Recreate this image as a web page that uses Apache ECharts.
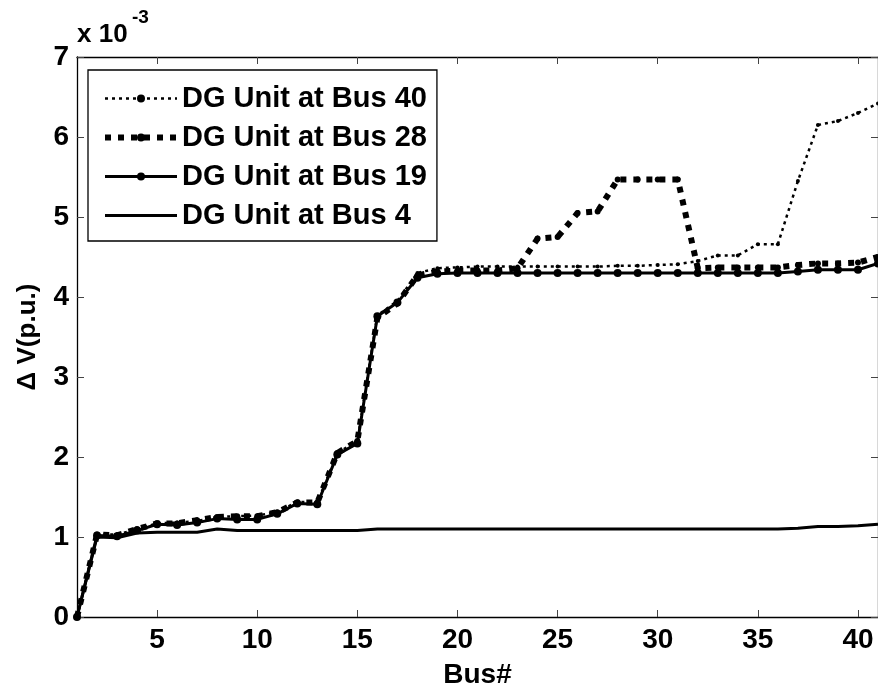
<!DOCTYPE html>
<html>
<head>
<meta charset="utf-8">
<script src="https://cdn.jsdelivr.net/npm/echarts@6/dist/echarts.min.js"></script>
<style>
  html, body { margin: 0; padding: 0; background: #fff; }
  #chart { width: 878px; height: 694px; }
</style>
</head>
<body>
<div id="chart"></div>
<script>
// Bus numbers along the feeder
const buses = [1,2,3,4,5,6,7,8,9,10,11,12,13,14,15,16,17,18,19,20,21,22,23,24,25,26,27,28,29,30,31,32,33,34,35,36,37,38,39,40,41];

// Voltage deviation (x 10^-3 p.u.) for each DG placement
const dgBus40 = [0,1.03,1.03,1.10,1.17,1.18,1.20,1.25,1.26,1.27,1.31,1.44,1.43,2.05,2.20,3.77,3.95,4.30,4.36,4.37,4.38,4.38,4.38,4.38,4.38,4.38,4.38,4.39,4.39,4.40,4.41,4.45,4.52,4.52,4.66,4.66,5.45,6.15,6.20,6.30,6.42];
const dgBus28 = [0,1.03,1.02,1.10,1.17,1.17,1.21,1.25,1.26,1.26,1.31,1.43,1.43,2.05,2.20,3.74,3.92,4.27,4.32,4.33,4.33,4.33,4.36,4.73,4.75,5.05,5.07,5.47,5.47,5.47,5.47,4.36,4.37,4.37,4.37,4.37,4.40,4.42,4.42,4.43,4.50];
const dgBus19 = [0,1.02,1.01,1.08,1.16,1.15,1.18,1.23,1.22,1.22,1.29,1.42,1.41,2.03,2.17,3.76,3.93,4.24,4.29,4.30,4.30,4.30,4.30,4.30,4.30,4.30,4.30,4.30,4.30,4.30,4.30,4.30,4.30,4.30,4.30,4.30,4.32,4.34,4.34,4.34,4.42];
const dgBus4  = [0,1.00,0.99,1.05,1.06,1.06,1.06,1.10,1.08,1.08,1.08,1.08,1.08,1.08,1.08,1.10,1.10,1.10,1.10,1.10,1.10,1.10,1.10,1.10,1.10,1.10,1.10,1.10,1.10,1.10,1.10,1.10,1.10,1.10,1.10,1.10,1.11,1.13,1.13,1.14,1.16];

const seriesNames = ['DG Unit at Bus 40', 'DG Unit at Bus 28', 'DG Unit at Bus 19', 'DG Unit at Bus 4'];
const xTicks = [5, 10, 15, 20, 25, 30, 35, 40];
const yTicks = [0, 1, 2, 3, 4, 5, 6, 7];

const FONT = '"Liberation Sans", Arial, Helvetica, sans-serif';
const pairs = arr => buses.map((b, i) => [b, arr[i]]);

// Line styles shared by the plotted series and their legend samples
const styles = [
  { width: 2.5, type: [3, 4] },
  { width: 6, type: [6, 7] },
  { width: 3, type: 'solid' },
  { width: 3, type: 'solid' }
];

const chart = echarts.init(document.getElementById('chart'), null, { renderer: 'canvas' });

const tickStyle = { show: true, inside: true, length: 7, lineStyle: { color: '#444', width: 1 } };
const axisLine = { show: true, onZero: false, lineStyle: { color: '#000', width: 1.3 } };

chart.setOption({
  animation: false,
  backgroundColor: '#fff',
  grid: { left: 77, right: -5, top: 57, bottom: 73, containLabel: false },
  graphic: [
    { type: 'text', left: 77, top: 22, style: { text: 'x 10', font: 'bold 26px ' + FONT, fill: '#000' } },
    { type: 'text', left: 132, top: 8, style: { text: '-3', font: 'bold 19px ' + FONT, fill: '#000' } }
  ],
  legend: {
    orient: 'vertical',
    left: 88,
    top: 70,
    padding: [14, 10, 11, 14],
    itemGap: 10,
    itemWidth: 72,
    itemHeight: 10,
    borderColor: '#000',
    borderWidth: 1.3,
    backgroundColor: '#fff',
    textStyle: { fontFamily: FONT, fontWeight: 'bold', fontSize: 29, color: '#000' },
    data: [
      { name: seriesNames[0], lineStyle: { color: '#000', width: styles[0].width, type: styles[0].type } },
      { name: seriesNames[1], lineStyle: { color: '#000', width: styles[1].width, type: styles[1].type } },
      { name: seriesNames[2], lineStyle: { color: '#000', width: styles[2].width, type: 'solid' } },
      { name: seriesNames[3], lineStyle: { color: '#000', width: styles[3].width, type: 'solid' }, itemStyle: { opacity: 0 } }
    ]
  },
  xAxis: [
    {
      type: 'value', min: 1, max: 41, position: 'bottom',
      name: 'Bus#', nameLocation: 'middle', nameGap: 44,
      nameTextStyle: { fontFamily: FONT, fontWeight: 'bold', fontSize: 28, color: '#000' },
      axisLine: axisLine,
      axisTick: Object.assign({ customValues: xTicks }, tickStyle),
      axisLabel: { customValues: xTicks, margin: 9, fontFamily: FONT, fontWeight: 'bold', fontSize: 28, color: '#000' },
      splitLine: { show: false }
    },
    {
      type: 'value', min: 1, max: 41, position: 'top',
      axisLine: axisLine,
      axisTick: Object.assign({ customValues: xTicks }, tickStyle),
      axisLabel: { show: false },
      splitLine: { show: false }
    }
  ],
  yAxis: [
    {
      type: 'value', min: 0, max: 7, interval: 1, position: 'left',
      name: 'Δ V(p.u.)', nameLocation: 'middle', nameGap: 36, nameRotate: 90,
      nameTextStyle: { fontFamily: FONT, fontWeight: 'bold', fontSize: 26, color: '#000' },
      axisLine: axisLine,
      axisTick: tickStyle,
      axisLabel: { margin: 8, fontFamily: FONT, fontWeight: 'bold', fontSize: 28, color: '#000',
                   formatter: v => (yTicks.indexOf(v) >= 0 ? String(v) : '') },
      splitLine: { show: false }
    },
    {
      type: 'value', min: 0, max: 7, interval: 1, position: 'right',
      axisLine: axisLine,
      axisTick: tickStyle,
      axisLabel: { show: false },
      splitLine: { show: false }
    }
  ],
  series: [
    {
      name: seriesNames[0], type: 'line', data: pairs(dgBus40),
      symbol: 'circle', symbolSize: 4, showSymbol: true,
      itemStyle: { color: '#000' },
      lineStyle: Object.assign({ color: '#000' }, styles[0]),
      z: 2
    },
    {
      name: seriesNames[1], type: 'line', data: pairs(dgBus28),
      symbol: 'circle', symbolSize: 6, showSymbol: true,
      itemStyle: { color: '#000' },
      lineStyle: Object.assign({ color: '#000' }, styles[1]),
      z: 3
    },
    {
      name: seriesNames[2], type: 'line', data: pairs(dgBus19),
      symbol: 'circle', symbolSize: 8, showSymbol: true,
      itemStyle: { color: '#000' },
      lineStyle: Object.assign({ color: '#000' }, styles[2]),
      z: 4
    },
    {
      name: seriesNames[3], type: 'line', data: pairs(dgBus4),
      symbol: 'none',
      itemStyle: { color: '#000' },
      lineStyle: Object.assign({ color: '#000' }, styles[3]),
      z: 5
    }
  ]
});
</script>
</body>
</html>
